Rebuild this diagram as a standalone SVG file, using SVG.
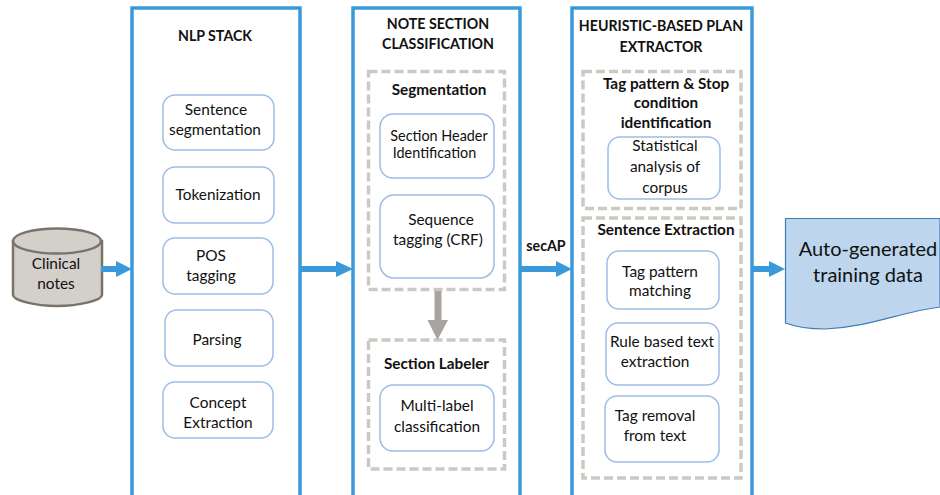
<svg xmlns="http://www.w3.org/2000/svg" width="940" height="495" viewBox="0 0 940 495">
<style>
text{font-family:Lato,"Liberation Sans",sans-serif;fill:#111;text-anchor:middle;font-size:15.400px}
.h{font-weight:700;font-size:14.200px}
.s{font-weight:700;font-size:15.300px}
.m{font-size:14.400px}
.l{font-size:20px}
.panel{fill:#fff;stroke:#3a9ad9;stroke-width:3.500}
.box{fill:#fff;stroke:#9dbde6;stroke-width:1.500}
.dash{fill:#fff;stroke:#ccc9c2;stroke-width:3.500;stroke-dasharray:9 4}
.arr{fill:none;stroke:#3a9ad9;stroke-width:6}
.head{fill:#3a9ad9}
</style>
<rect width="940" height="495" fill="#fff"/>
<g id="panel-nlp"><path class="panel" d="M132 497V8H300V497"/><text class="h" x="215" y="41">NLP STACK</text></g>
<g id="panel-note"><path class="panel" d="M353 497V8H520V497"/><text class="h" x="438" y="29">NOTE SECTION</text><text class="h" x="438" y="49">CLASSIFICATION</text></g>
<g id="panel-plan"><path class="panel" d="M572 497V8H752V497"/><text class="h" x="661" y="31">HEURISTIC-BASED PLAN</text><text class="h" x="661" y="52">EXTRACTOR</text></g>
<g id="group-seg"><rect class="dash" x="368.500" y="71.500" width="136" height="218"/><text class="s" x="439" y="95">Segmentation</text></g>
<g id="group-lab"><rect class="dash" x="368.500" y="340" width="136" height="129"/><text class="s" x="436.500" y="369">Section Labeler</text></g>
<g id="group-tag"><rect class="dash" x="583" y="71.500" width="158" height="137"/><text class="s" x="666" y="89">Tag pattern &amp; Stop</text><text class="s" x="666" y="108">condition</text><text class="s" x="666" y="128">identification</text></g>
<g id="group-ext"><rect class="dash" x="583" y="218" width="158" height="260"/><text class="s" x="666" y="235">Sentence Extraction</text></g>
<g id="db"><path d="M13 241V295C13 300 34 306 57 306S102 300 102 295V241Z" fill="#d3cfc9" stroke="#7b736a" stroke-width="2.500"/><ellipse cx="57" cy="241" rx="44" ry="12.500" fill="#d3cfc9" stroke="#7b736a" stroke-width="2.500"/><text x="56" y="269">Clinical</text><text x="56" y="289">notes</text></g>
<g id="doc"><path d="M785.500 218.500H940V307C900 312 870 327 825 329C808 329 796 327 785.500 323Z" fill="#bdd6ee" stroke="#3f7cb5" stroke-width="1.200"/><text class="l" x="868" y="256">Auto-generated</text><text class="l" x="868" y="282">training data</text></g>
<g id="n1"><rect class="box" x="163" y="95" width="111" height="55" rx="12"/><text x="216" y="115">Sentence</text><text x="215" y="135">segmentation</text></g>
<g id="n2"><rect class="box" x="163" y="167" width="111" height="56" rx="12"/><text x="218" y="200">Tokenization</text></g>
<g id="n3"><rect class="box" x="163" y="238" width="110" height="56" rx="12"/><text x="211" y="261">POS</text><text x="211" y="281">tagging</text></g>
<g id="n4"><rect class="box" x="165" y="310" width="108" height="56" rx="12"/><text x="217" y="345">Parsing</text></g>
<g id="n5"><rect class="box" x="163" y="382" width="110" height="56" rx="12"/><text x="218" y="408">Concept</text><text x="218" y="428">Extraction</text></g>
<g id="n6"><rect class="box" x="380" y="114" width="114" height="64" rx="13"/><text class="m" x="439" y="141">Section Header</text><text class="m" x="434.500" y="158">Identification</text></g>
<g id="n7"><rect class="box" x="380" y="195" width="114" height="83" rx="14"/><text x="441" y="225">Sequence</text><text x="438" y="245">tagging (CRF)</text></g>
<g id="n8"><rect class="box" x="380" y="385" width="114" height="66" rx="13"/><text x="437" y="411">Multi-label</text><text x="437" y="432">classification</text></g>
<g id="n9"><rect class="box" x="608" y="137" width="112" height="62" rx="12"/><text x="665" y="151">Statistical</text><text x="665" y="172">analysis of</text><text x="665" y="193">corpus</text></g>
<g id="n10"><rect class="box" x="607" y="251" width="112" height="58" rx="12"/><text x="660" y="277">Tag pattern</text><text x="660" y="296">matching</text></g>
<g id="n11"><rect class="box" x="606" y="323" width="113" height="62" rx="12"/><text x="662" y="347">Rule based text</text><text x="655" y="367">extraction</text></g>
<g id="n12"><rect class="box" x="605" y="396" width="114" height="66" rx="12"/><text x="655" y="421">Tag removal</text><text x="655" y="441">from text</text></g>
<g id="connectors">
<path class="arr" d="M101 269H118"/><path class="head" d="M116 261L132 269L116 277Z"/>
<path class="arr" d="M301 269H338"/><path class="head" d="M336 261L353 269L336 277Z"/>
<path class="arr" d="M521 269H558"/><path class="head" d="M556 261L572 269L556 277Z"/>
<path class="arr" d="M753 269H771"/><path class="head" d="M769 261L785 269L769 277Z"/>
<path d="M438 291V320" fill="none" stroke="#a8a5a0" stroke-width="7"/><path d="M427.500 320H448L437.500 340Z" fill="#a8a5a0"/>
<text class="h" x="546" y="251">secAP</text>
</g>
</svg>
